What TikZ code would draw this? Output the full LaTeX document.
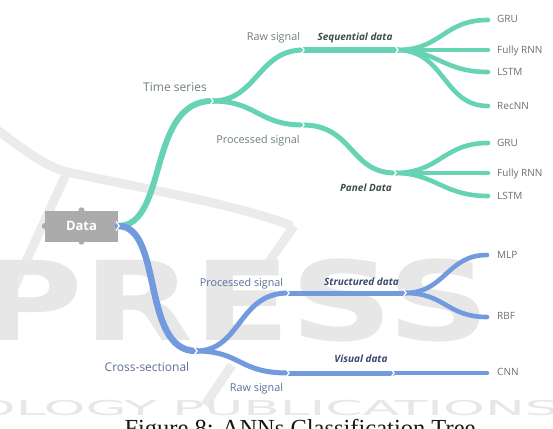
\documentclass[tikz,border=0pt]{standalone}
\usepackage{fontspec}
\usepackage{graphicx}
\setmainfont{Open Sans}
\newfontfamily\capfont{Liberation Serif}
\newfontfamily\wmfont{DejaVu Sans}

\definecolor{tsgreen}{HTML}{66D4B4}
\definecolor{csblue}{HTML}{729ADF}
\definecolor{datagray}{HTML}{ABABAB}
\definecolor{wmgray}{HTML}{E7E7E7}
\definecolor{wmband}{HTML}{EBEBEB}
\definecolor{tslabel}{HTML}{6F7F7D}
\definecolor{tsbold}{HTML}{3D4D4B}
\definecolor{cslabel}{HTML}{5D6D9A}
\definecolor{csbold}{HTML}{3A4870}
\definecolor{leaflabel}{HTML}{6E6E6E}

\tikzset{
  tsline/.style={draw=tsgreen, line width=5pt, line cap=round},
  csline/.style={draw=csblue, line width=5pt, line cap=round},
  leafline/.style={line width=4.6pt},
  gapmark/.pic={\draw[white, line width=1.3pt, line join=miter] (-2.2,-4.5) -- (1,0) -- (-2.2,4.5);},
  lvlone/.style={inner sep=0, anchor=base, font=\fontsize{12}{14}\selectfont},
  lvltwo/.style={inner sep=0, anchor=base, font=\fontsize{10.8}{13}\selectfont},
  datalbl/.style={inner sep=0, anchor=base, font=\fontsize{10}{12}\selectfont\bfseries\itshape},
  leaflbl/.style={inner sep=0, anchor=base west, text=leaflabel, font=\fontsize{10}{12}\selectfont},
  wmstroke/.style={draw=wmband, line width=9pt},
  wmrow/.style={inner sep=0, text=wmgray, font=\wmfont\fontsize{20.5}{22}\selectfont},
}

\begin{document}
\begin{tikzpicture}[x=1pt, y=-1pt]
\useasboundingbox (0,0) rectangle (553,428);
\begin{scope}
\clip (0,0) rectangle (553,428);

% faint publisher watermark in the background
\draw[wmstroke] (-8,126) .. controls (30,155) and (48,167) .. (67,172)
  .. controls (140,188) and (240,205) .. (292,226);
\draw[wmstroke] (67,172) -- (12,292);
\draw[wmstroke] (294,226) -- (262,272);
\draw[wmstroke] (232,365) -- (205,405);
\node[anchor=base west, inner sep=0, text=wmgray,
  font=\wmfont\bfseries\fontsize{110}{110}\selectfont] (wmpress) at (-22,340)
  {\scalebox{1.3}[1]{PRESS}};
\node[wmrow, anchor=base east] (wmtech) at (157,415) {\scalebox{2.6}[1]{TECHNOLOGY}};
\node[wmrow, anchor=base west] (wmpub) at (172,415) {\scalebox{2.6}[1]{PUBLICATIONS}};

% root node
\node[fill=datagray, minimum width=73pt, minimum height=31pt, inner sep=0,
  text=white, font=\fontsize{13}{15}\selectfont\bfseries] (data) at (81.5,226) {Data};
\fill[datagray] (data.north) circle (3pt) (data.south) circle (3pt) (data.west) circle (3pt);

% junctions and leaf ends
\coordinate (ts) at (212,101);
\coordinate (tsraw) at (303,50);
\coordinate (seq) at (397,50);
\coordinate (tsproc) at (303,125);
\coordinate (panel) at (395,173);
\coordinate (sq1) at (488,20);
\coordinate (sq2) at (488,50);
\coordinate (sq3) at (488,72);
\coordinate (sq4) at (488,106);
\coordinate (pn1) at (488,143);
\coordinate (pn2) at (488,173);
\coordinate (pn3) at (488,196);
\coordinate (cs) at (196,351);
\coordinate (csproc) at (288,293);
\coordinate (struct) at (405,293);
\coordinate (csraw) at (288,373);
\coordinate (vis) at (393,373);
\coordinate (mlp) at (487,255);
\coordinate (rbf) at (487,317);
\coordinate (cnn) at (487,373);

% time series branch
\draw[tsline, line width=6pt] (data.east) .. controls +(50,0) and +(-65,0) .. (ts);
\draw[tsline] (ts) .. controls +(45,0) and +(-45,0) .. (tsraw);
\draw[tsline] (ts) .. controls +(45,0) and +(-45,0) .. (tsproc);
\draw[tsline] (tsraw) -- (seq);
\draw[tsline] (tsproc) .. controls +(50,0) and +(-45,0) .. (panel);
\draw[tsline, leafline] (seq) .. controls +(45,0) and +(-45,0) .. (sq1);
\draw[tsline, leafline] (seq) -- (sq2);
\draw[tsline, leafline] (seq) .. controls +(40,0) and +(-45,0) .. (sq3);
\draw[tsline, leafline] (seq) .. controls +(48,0) and +(-45,0) .. (sq4);
\draw[tsline, leafline] (panel) .. controls +(45,0) and +(-45,0) .. (pn1);
\draw[tsline, leafline] (panel) -- (pn2);
\draw[tsline, leafline] (panel) .. controls +(40,0) and +(-45,0) .. (pn3);

% cross-sectional branch
\draw[csline, line width=6.5pt] (data.east) .. controls +(45,0) and +(-55,0) .. (cs);
\draw[csline] (cs) .. controls +(45,0) and +(-50,0) .. (csproc);
\draw[csline] (cs) .. controls +(45,0) and +(-50,0) .. (csraw);
\draw[csline] (csproc) -- (struct);
\draw[csline] (csraw) -- (vis);
\draw[csline, leafline] (struct) .. controls +(40,0) and +(-40,0) .. (mlp);
\draw[csline, leafline] (struct) .. controls +(40,0) and +(-40,0) .. (rbf);
\draw[csline, leafline] (vis) -- (cnn);

% gaps where the branches join
\foreach \p in {data.east, ts, tsraw, seq, tsproc, panel, cs, csproc, struct, csraw, vis}
  \pic at (\p) {gapmark};

% branch labels
\node[lvlone, text=tslabel] (lts) at (175,91) {Time series};
\node[lvltwo, text=tslabel] (ltsraw) at (273.5,41) {Raw signal};
\node[lvltwo, text=tslabel] (ltsproc) at (258,143) {Processed signal};
\node[datalbl, text=tsbold] (lseq) at (355,41) {Sequential data};
\node[datalbl, text=tsbold] (lpanel) at (366,191) {Panel Data};
\node[lvlone, text=cslabel] (lcs) at (147,371) {Cross-sectional};
\node[lvltwo, text=cslabel] (lcsproc) at (241.5,286) {Processed signal};
\node[lvltwo, text=cslabel] (lcsraw) at (256.5,391) {Raw signal};
\node[datalbl, text=csbold] (lstruct) at (361.5,285) {Structured data};
\node[datalbl, text=csbold] (lvis) at (361,362) {Visual data};

% leaf labels
\node[leaflbl] (tsq1) at (497,22.5) {GRU};
\node[leaflbl] (tsq2) at (497,53.5) {Fully RNN};
\node[leaflbl] (tsq3) at (497,75.5) {LSTM};
\node[leaflbl] (tsq4) at (497,109.5) {RecNN};
\node[leaflbl] (tpn1) at (497,146.5) {GRU};
\node[leaflbl] (tpn2) at (497,176.5) {Fully RNN};
\node[leaflbl] (tpn3) at (497,199.5) {LSTM};
\node[leaflbl] (tmlp) at (497,258.5) {MLP};
\node[leaflbl] (trbf) at (497,319.5) {RBF};
\node[leaflbl] (tcnn) at (497,375.5) {CNN};

% caption
\node[anchor=base, inner sep=0, text=black!90,
  font=\capfont\fontsize{24.5}{27}\selectfont] (caption) at (300,436)
  {Figure 8: ANNs Classification Tree};
\end{scope}
\end{tikzpicture}
\end{document}
